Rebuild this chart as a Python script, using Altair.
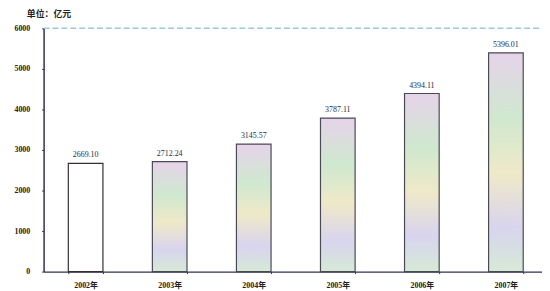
import altair as alt
import pandas as pd

years = ["2002年", "2003年", "2004年", "2005年", "2006年", "2007年"]
values = [2669.10, 2712.24, 3145.57, 3787.11, 4394.11, 5396.01]
plain = [True, False, False, False, False, False]

df = pd.DataFrame({"year": years, "value": values, "plain": plain})

num_font = "Liberation Serif, Noto Sans CJK SC"
axis_col = "#2f2f5a"

x = alt.X("year:N", sort=years, title=None,
          scale=alt.Scale(range=[0, 510], paddingInner=0.588, paddingOuter=0.294),
          axis=alt.Axis(labelAngle=0, labelFont=num_font, labelFontSize=8, labelFontWeight="bold",
                        labelColor="#222", domainColor=axis_col, domainWidth=1.5,
                        tickBand="extent", tickSize=2, tickColor=axis_col, labelPadding=8))
y = alt.Y("value:Q", title=None,
          scale=alt.Scale(domain=[0, 6000]),
          axis=alt.Axis(values=[0, 1000, 2000, 3000, 4000, 5000, 6000], grid=False, format="d",
                        labelFont=num_font, labelFontSize=8, labelFontWeight="bold",
                        labelColor="#222", domainColor=axis_col, domainWidth=1.5,
                        tickSize=2, tickColor=axis_col, labelPadding=12))

base = alt.Chart(df)

grad = alt.Gradient(
    gradient="linear",
    stops=[
        alt.GradientStop(color="#e6d3ea", offset=0),
        alt.GradientStop(color="#cfe8cf", offset=0.3),
        alt.GradientStop(color="#efe9c8", offset=0.55),
        alt.GradientStop(color="#d8d4ee", offset=0.8),
        alt.GradientStop(color="#d6ead6", offset=1),
    ],
    x1=0, x2=0, y1=0, y2=1,
)

bars_plain = base.transform_filter("datum.plain").mark_bar(
    fill="white", stroke="#3a2e2e", strokeWidth=1.2
).encode(x=x, y=y)

bars_tex = base.transform_filter("!datum.plain").mark_bar(
    fill=grad, stroke="#4a4a55", strokeWidth=1.2
).encode(x=x, y=y)

labels = base.mark_text(dy=-4, font=num_font, fontSize=8, color="#2a2a40", baseline="bottom").encode(
    x=x, y=y, text=alt.Text("value:Q", format=".2f")
)

top = alt.Chart(pd.DataFrame({"v": [6000]})).mark_rule(
    color="#9cc9d6", strokeDash=[6, 3], strokeWidth=1.5
).encode(y=alt.Y("v:Q", scale=alt.Scale(domain=[0, 6000])), x=alt.value(0), x2=alt.value(510))

chart = alt.layer(top, bars_plain, bars_tex, labels).properties(
    width=504, height=246,
    autosize=alt.AutoSizeParams(type="none"),
    padding={"left": 36, "top": 19, "right": 0, "bottom": 18},
    title=alt.TitleParams("单位：亿元", anchor="start", frame="group", dx=-17, offset=5, fontSize=9,
                          fontWeight="bold", font="Noto Sans CJK SC", color="#222"),
).configure_view(stroke=None)

chart.save("out.html", embed_options={"renderer": "svg", "actions": False})
